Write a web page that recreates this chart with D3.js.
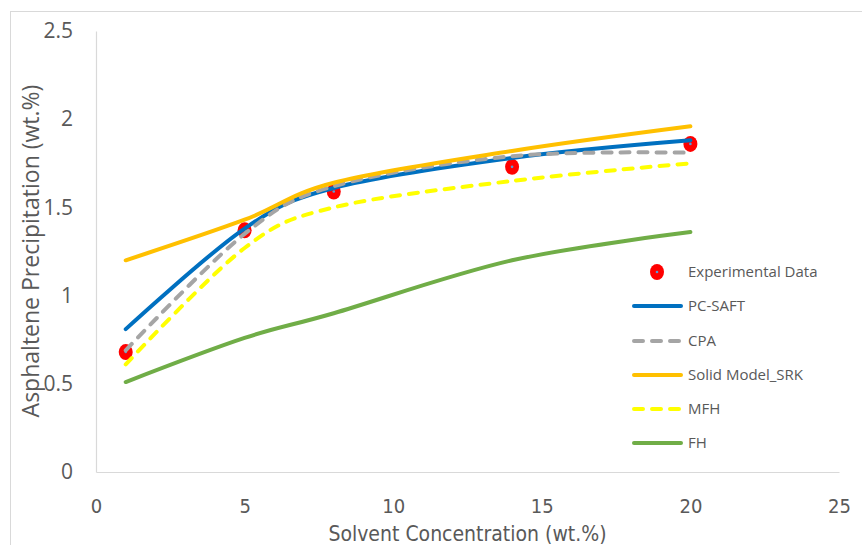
<!DOCTYPE html>
<html>
<head>
<meta charset="utf-8">
<script src="https://cdn.jsdelivr.net/npm/d3@7"></script>
<style>
  body { margin: 0; background: #fff; }
  .tick text { fill: #595959; }
</style>
</head>
<body>
<div class="chart"></div>
<script>
const w = 862;
const h = 545;

// data
const conc = [1, 5, 8, 14, 20];
const experimental = [0.68, 1.37, 1.59, 1.73, 1.86];
const pcSaft = [0.81, 1.38, 1.61, 1.78, 1.88];
const cpa = [0.69, 1.35, 1.62, 1.79, 1.81];
const solidSrk = [1.2, 1.43, 1.64, 1.82, 1.96];
const mfh = [0.61, 1.27, 1.5, 1.65, 1.75];
const fh = [0.51, 0.76, 0.9, 1.2, 1.36];
const xTicks = [0, 5, 10, 15, 20, 25];
const yTicks = [0, 0.5, 1, 1.5, 2, 2.5];

const series = [
  { name: 'PC-SAFT', values: pcSaft, color: '#0070C0', dash: null },
  { name: 'CPA', values: cpa, color: '#A5A5A5', dash: '9,9' },
  { name: 'Solid Model_SRK', values: solidSrk, color: '#FFC000', dash: null },
  { name: 'MFH', values: mfh, color: '#FFFF00', dash: '9,9' },
  { name: 'FH', values: fh, color: '#70AD47', dash: null }
];

const plotLeft = 96, plotRight = 839, plotTop = 31, plotBottom = 472;

const svg = d3.select('.chart')
  .append('svg')
  .attr('width', w)
  .attr('height', h);

// outer chart border
svg.append('rect')
  .attr('x', 10.5).attr('y', 11.5)
  .attr('width', 900).attr('height', 600)
  .attr('fill', 'none')
  .attr('stroke', '#D9D9D9');

const xScale = d3.scaleLinear().domain([0, 25]).range([plotLeft, plotRight]);
const yScale = d3.scaleLinear().domain([0, 2.5]).range([plotBottom, plotTop]);

// axes
const xAxis = d3.axisBottom(xScale).tickValues(xTicks).tickSize(0);
const gx = svg.append('g')
  .attr('transform', `translate(0,${plotBottom})`)
  .call(xAxis);
gx.select('.domain').attr('stroke', '#D9D9D9').attr('stroke-width', 1.2);
gx.selectAll('text')
  .attr('font-family', '"Liberation Sans Narrow", "DejaVu Sans Condensed", sans-serif')
  .attr('font-size', 20)
  .attr('dy', '0')
  .attr('y', 41);

const yAxis = d3.axisLeft(yScale).tickValues(yTicks).tickSize(0).tickPadding(23)
  .tickFormat(d3.format('~g'));
const gy = svg.append('g')
  .attr('transform', `translate(${plotLeft},0)`)
  .call(yAxis);
gy.select('.domain').attr('stroke', '#D9D9D9').attr('stroke-width', 1.2);
gy.selectAll('text')
  .attr('font-family', '"Open Sans", sans-serif')
  .attr('font-size', 21);

// axis titles
svg.append('text')
  .attr('x', (plotLeft + plotRight) / 2)
  .attr('y', 541)
  .attr('text-anchor', 'middle')
  .attr('font-family', '"Liberation Sans Narrow", "DejaVu Sans Condensed", sans-serif')
  .attr('font-size', 21)
  .attr('fill', '#595959')
  .text('Solvent Concentration (wt.%)');

svg.append('text')
  .attr('transform', 'translate(39,251) rotate(-90)')
  .attr('text-anchor', 'middle')
  .attr('font-family', '"Open Sans", sans-serif')
  .attr('font-size', 23)
  .attr('fill', '#595959')
  .text('Asphaltene Precipitation (wt.%)');

// experimental points (drawn first, under the model lines)
const pts = conc.map((c, i) => [c, experimental[i]]);
svg.append('g')
  .selectAll('ellipse')
  .data(pts)
  .enter()
  .append('ellipse')
  .attr('cx', (d) => xScale(d[0]))
  .attr('cy', (d) => yScale(d[1]))
  .attr('rx', 7)
  .attr('ry', 8)
  .attr('fill', '#FF0000');
svg.append('g')
  .selectAll('circle')
  .data(pts)
  .enter()
  .append('circle')
  .attr('cx', (d) => xScale(d[0]))
  .attr('cy', (d) => yScale(d[1]))
  .attr('r', 1.3)
  .attr('fill', '#5B9BD5');

// model lines
const line = d3.line()
  .x((d) => xScale(d[0]))
  .y((d) => yScale(d[1]))
  .curve(d3.curveCatmullRom.alpha(0));

series.forEach((s) => {
  svg.append('path')
    .datum(conc.map((c, i) => [c, s.values[i]]))
    .attr('d', line)
    .attr('fill', 'none')
    .attr('stroke', s.color)
    .attr('stroke-width', 4)
    .attr('stroke-linecap', 'round')
    .attr('stroke-dasharray', s.dash);
});

// legend
const legendX = 632, legendText = 688;
const rowY = [272, 306, 341, 375, 409, 443];
const lg = svg.append('g');
lg.append('ellipse')
  .attr('cx', 657).attr('cy', rowY[0])
  .attr('rx', 7).attr('ry', 8)
  .attr('fill', '#FF0000');
lg.append('circle')
  .attr('cx', 657).attr('cy', rowY[0])
  .attr('r', 1.3).attr('fill', '#5B9BD5');
series.forEach((s, i) => {
  lg.append('line')
    .attr('x1', legendX + 2).attr('x2', 681)
    .attr('y1', rowY[i + 1]).attr('y2', rowY[i + 1])
    .attr('stroke', s.color)
    .attr('stroke-width', 4)
    .attr('stroke-linecap', 'round')
    .attr('stroke-dasharray', s.dash);
});
const labels = ['Experimental Data'].concat(series.map((s) => s.name));
labels.forEach((t, i) => {
  lg.append('text')
    .attr('x', legendText)
    .attr('y', rowY[i])
    .attr('dy', '0.35em')
    .attr('font-family', '"Open Sans", sans-serif')
    .attr('font-size', 15)
    .attr('fill', '#595959')
    .text(t);
});
</script>
</body>
</html>
